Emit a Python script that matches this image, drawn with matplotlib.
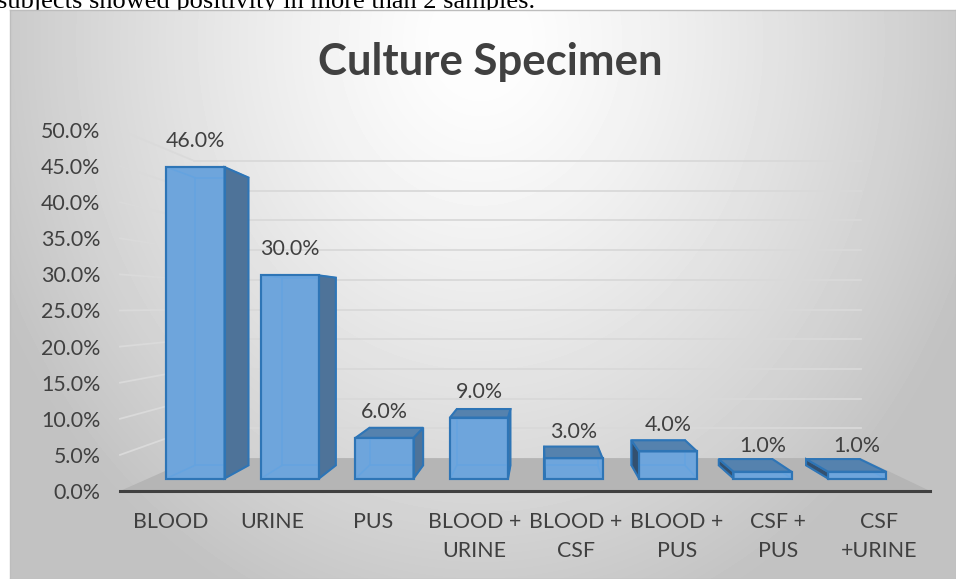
import numpy as np
import matplotlib.pyplot as plt
from matplotlib.patches import Polygon

plt.rcParams['font.family'] = ['Lato', 'DejaVu Sans']

categories = ['BLOOD', 'URINE', 'PUS', 'BLOOD +\nURINE', 'BLOOD +\nCSF',
              'BLOOD +\nPUS', 'CSF +\nPUS', 'CSF\n+URINE']
values = [46.0, 30.0, 6.0, 9.0, 3.0, 4.0, 1.0, 1.0]
yticks = [0, 5, 10, 15, 20, 25, 30, 35, 40, 45, 50]

W, H = 956, 579
txt = '#404040'
fs = 15.4


def box(left, top, width, height):
    # pixel box -> figure fraction
    return [left / W, 1 - (top + height) / H, width / W, height / H]


fig = plt.figure(figsize=(W / 100, H / 100), dpi=100)

# text line of the page above the chart (cut off by the chart)
fig.text(-0.003, 1 - 8 / H, 'subjects showed positivity in more than 2 samples.',
         family='Liberation Serif', fontsize=19, va='baseline', ha='left',
         color='black', zorder=-1)

# chart area with gradient
bg = fig.add_axes(box(10, 10, 946, 569))
yy, xx = np.mgrid[0:569, 0:946]
r = np.sqrt(((xx - 470) / 480.0) ** 2 + ((yy - 30) / 560.0) ** 2)
shade = np.clip(1 - 0.21 * r ** 1.3, 0.76, 0.99)
bg.imshow(shade, cmap='gray', vmin=0, vmax=1, aspect='auto',
          extent=[0, 946, 569, 0], interpolation='bilinear')
bg.set_xticks([])
bg.set_yticks([])
for s in bg.spines.values():
    s.set_color('#bdbdbd')
    s.set_linewidth(1)

# front frame: axis labels, floor, walls
fa = fig.add_axes(box(120, 130, 810, 361))
fa.set_xlim(-0.5, 7.5)
fa.set_ylim(0, 50)
fa.patch.set_visible(False)
for side in ['top', 'right', 'left']:
    fa.spines[side].set_visible(False)
fa.spines['bottom'].set_color(txt)
fa.spines['bottom'].set_linewidth(2.2)
fa.spines['bottom'].set_zorder(3)
fa.set_yticks(yticks)
fa.set_yticklabels([f'{v:.1f}%' for v in yticks])
fa.set_xticks(range(len(categories)))
fa.set_xticklabels(categories, linespacing=1.6)
fa.tick_params(axis='y', length=0, pad=14, labelsize=fs, labelcolor=txt)
fa.tick_params(axis='x', length=0, pad=15, labelsize=fs, labelcolor=txt)

vf = (3.648, 25.76)
kf = 0.177


def back_f(x, y):
    return (x + kf * (vf[0] - x), y + kf * (vf[1] - y))


floor = [(-0.5, 0), (7.5, 0), back_f(7.5, 0), back_f(-0.5, 0)]
fa.add_patch(Polygon(floor, closed=True, facecolor='#b5b5b5',
                     edgecolor='none', zorder=1, clip_on=False))
for v in yticks[1:]:
    bx, by = back_f(-0.5, v)
    fa.plot([-0.5, bx], [v, by], color='#dadada', lw=1.3, zorder=0.5, clip_on=False)
    ex, ey = back_f(7.5, v)
    fa.plot([bx, ex], [by, ey], color='#d9d9d9', lw=1.3, zorder=0.5, clip_on=False)

# bars frame (front face of the bars sits a little behind the front frame)
ba = fig.add_axes(box(148.25, 140, 756, 338.5))
ba.set_xlim(-0.5, 7.5)
ba.set_ylim(0, 50)
ba.axis('off')

vb = (3.646, 25.6)
kb = 0.076
w = 0.614
edge = '#2e75b6'


def back_b(x, y):
    return (x + kb * (vb[0] - x), y + kb * (vb[1] - y))


xs = np.arange(len(values))
ba.bar(xs, values, width=w, color='#6ea5dc', edgecolor=edge,
       linewidth=1.5, zorder=3, clip_on=False)

for i, h in zip(xs, values):
    xl, xr = i - w / 2, i + w / 2
    fl0, fr0, fr1, fl1 = (xl, 0), (xr, 0), (xr, h), (xl, h)
    bl0, br0, br1, bl1 = back_b(*fl0), back_b(*fr0), back_b(*fr1), back_b(*fl1)

    # inner (hidden) edges seen through the transparent bar
    for p, q in [(bl0, br0), (br0, br1), (br1, bl1), (bl1, bl0),
                 (fl0, bl0), (fr0, br0), (fr1, br1), (fl1, bl1)]:
        ba.plot([p[0], q[0]], [p[1], q[1]], color='#64a3e0', lw=1.1,
                zorder=4, clip_on=False)

    if xr < vb[0]:
        ba.add_patch(Polygon([fr0, fr1, br1, br0], closed=True, facecolor='#4e7399',
                             edgecolor=edge, lw=1.5, zorder=5, clip_on=False))
    if xl > vb[0]:
        ba.add_patch(Polygon([fl0, fl1, bl1, bl0], closed=True, facecolor='#33506f',
                             edgecolor=edge, lw=1.5, zorder=5, clip_on=False))
    if h < vb[1]:
        ba.add_patch(Polygon([fl1, fr1, br1, bl1], closed=True, facecolor='#5582ae',
                             edgecolor=edge, lw=1.5, zorder=5, clip_on=False))
    # redraw the front outline on top
    ba.add_patch(Polygon([fl0, fr0, fr1, fl1], closed=True, facecolor='none',
                         edgecolor=edge, lw=1.5, zorder=6, clip_on=False))

    ba.annotate(f'{h:.1f}%', (i, h), xytext=(0, 18.7), textcoords='offset points',
                ha='center', va='center', fontsize=fs, color=txt, zorder=7)

fig.text(490 / W, 1 - 75 / H, 'Culture Specimen', ha='center', va='baseline',
         fontsize=31.5, fontweight='bold', color=txt)

fig.savefig('out.png', dpi=100)
